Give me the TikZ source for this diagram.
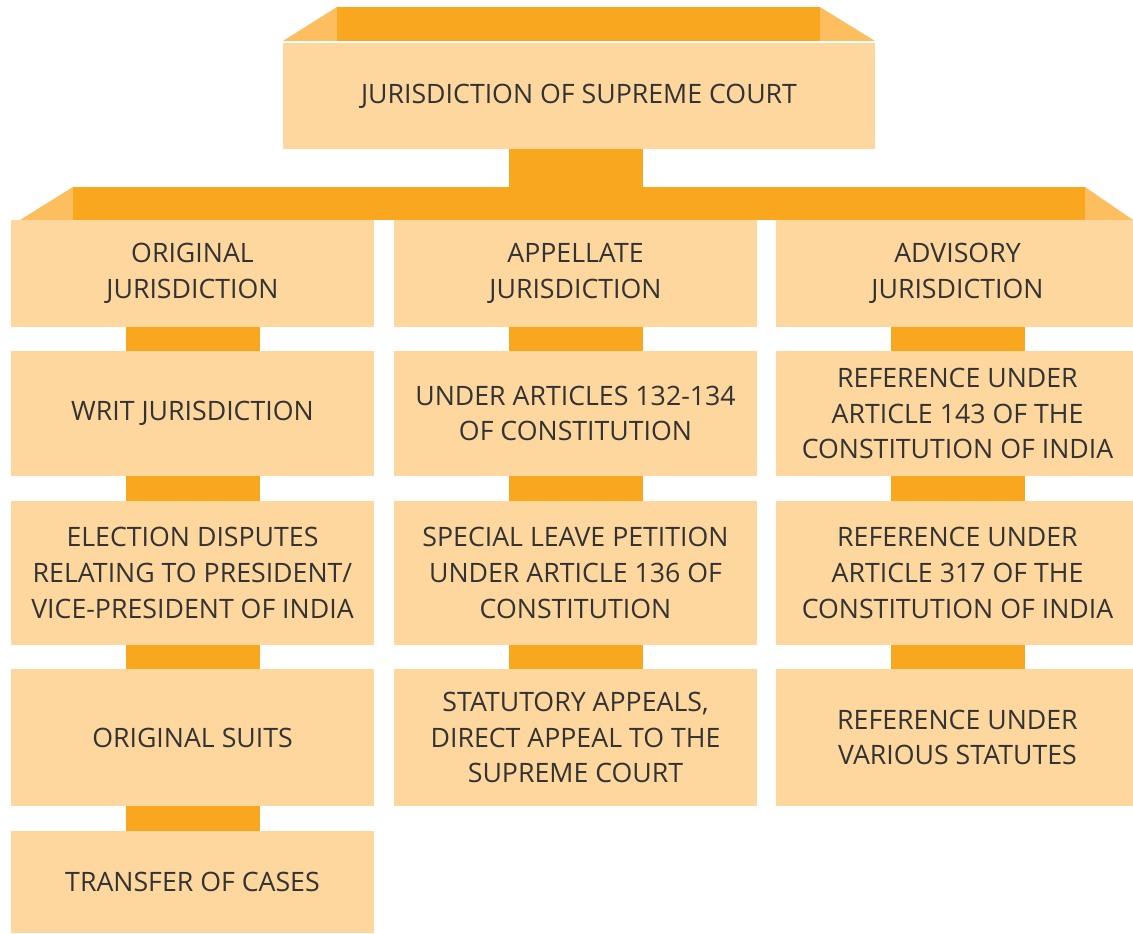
\documentclass[tikz,border=0pt]{standalone}
\usepackage{fontspec}
\setmainfont{Open Sans}
\usepackage{xcolor}
\usepackage{tikz}

\definecolor{boxfill}{HTML}{FDD79E}
\definecolor{bandfill}{HTML}{F8A71F}
\definecolor{foldfill}{HTML}{FDBE5F}
\definecolor{inkgray}{HTML}{333333}

\begin{document}
\begin{tikzpicture}[
  box node/.style={rectangle,fill=boxfill,minimum width=7.26cm,inner sep=0pt,
    align=center,text=inkgray,font=\fontsize{15.2}{20.4}\selectfont},
  link/.style={draw=bandfill,line width=2.68cm}]

  \useasboundingbox (0,0) rectangle (22.66,-18.68);

  % top ribbon
  \fill[foldfill] (5.66,-0.82) -- (6.74,-0.14) -- (6.74,-0.82) -- cycle;
  \fill[foldfill] (16.4,-0.14) -- (17.5,-0.82) -- (16.4,-0.82) -- cycle;
  \fill[bandfill] (6.74,-0.14) rectangle (16.4,-0.82);
  \node[box node,minimum width=11.84cm,minimum height=2.12cm] (court) at (11.58,-1.92)
    {JURISDICTION OF SUPREME COURT};

  % cross band
  \fill[foldfill] (0.4,-4.4) -- (1.46,-3.74) -- (1.46,-4.4) -- cycle;
  \fill[foldfill] (21.7,-3.74) -- (22.66,-4.4) -- (21.7,-4.4) -- cycle;

  \node[box node,minimum height=2.14cm] (orig) at (3.85,-5.47) {ORIGINAL\\JURISDICTION};
  \node[box node,minimum height=2.14cm] (appl) at (11.51,-5.47) {APPELLATE\\JURISDICTION};
  \node[box node,minimum height=2.14cm] (advi) at (19.15,-5.47) {ADVISORY\\JURISDICTION};

  \node[box node,minimum height=2.5cm] (writ) at (3.85,-8.27) {WRIT JURISDICTION};
  \node[box node,minimum height=2.5cm] (art132) at (11.51,-8.27) {UNDER ARTICLES 132-134\\OF CONSTITUTION};
  \node[box node,minimum height=2.5cm] (ref143) at (19.15,-8.27) {REFERENCE UNDER\\ARTICLE 143 OF THE\\CONSTITUTION OF INDIA};

  \node[box node,minimum height=2.88cm] (elect) at (3.85,-11.46) {ELECTION DISPUTES\\RELATING TO PRESIDENT/\\VICE-PRESIDENT OF INDIA};
  \node[box node,minimum height=2.88cm] (slp) at (11.51,-11.46) {SPECIAL LEAVE PETITION\\UNDER ARTICLE 136 OF\\CONSTITUTION};
  \node[box node,minimum height=2.88cm] (ref317) at (19.15,-11.46) {REFERENCE UNDER\\ARTICLE 317 OF THE\\CONSTITUTION OF INDIA};

  \node[box node,minimum height=2.74cm] (suits) at (3.85,-14.75) {ORIGINAL SUITS};
  \node[box node,minimum height=2.74cm] (statap) at (11.51,-14.75) {STATUTORY APPEALS,\\DIRECT APPEAL TO THE\\SUPREME COURT};
  \node[box node,minimum height=2.74cm] (refvar) at (19.15,-14.75) {REFERENCE UNDER\\VARIOUS STATUTES};

  \node[box node,minimum height=2.04cm] (transf) at (3.85,-17.64) {TRANSFER OF CASES};

  \draw[link] (court.south -| appl.north) -- (appl.north);
  \fill[bandfill] (1.46,-3.74) rectangle (21.7,-4.4);

  \draw[link] (orig) -- (writ);
  \draw[link] (writ) -- (elect);
  \draw[link] (elect) -- (suits);
  \draw[link] (suits) -- (transf);

  \draw[link] (appl) -- (art132);
  \draw[link] (art132) -- (slp);
  \draw[link] (slp) -- (statap);

  \draw[link] (advi) -- (ref143);
  \draw[link] (ref143) -- (ref317);
  \draw[link] (ref317) -- (refvar);

\end{tikzpicture}
\end{document}
